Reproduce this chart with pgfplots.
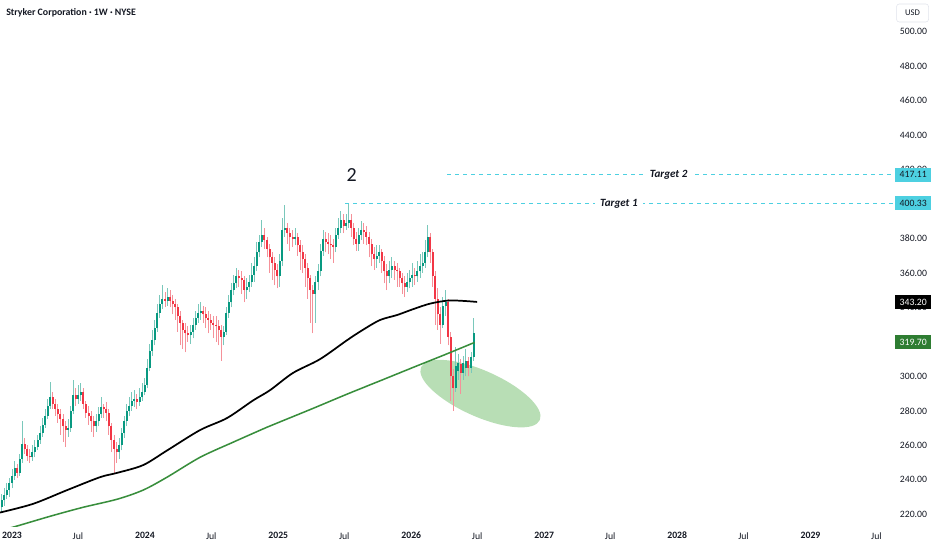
\documentclass[border=0pt]{standalone}
\usepackage{pgfplots}
\pgfplotsset{compat=1.18}
\usepackage{pgfplotstable}
\usepackage{fontspec}
\setmainfont{Carlito}
\definecolor{txt}{RGB}{19,23,34}
\definecolor{upbody}{RGB}{8,153,129}
\definecolor{upwick}{RGB}{122,200,187}
\definecolor{dnbody}{RGB}{242,54,69}
\definecolor{dnwick}{RGB}{245,145,153}
\definecolor{magreen}{RGB}{56,142,60}
\definecolor{boxgreen}{RGB}{46,125,50}
\definecolor{tvcyan}{RGB}{77,208,225}
\definecolor{ellfill}{RGB}{184,222,181}
\definecolor{bordergray}{RGB}{224,227,235}

\pgfplotstableread{
w o h l c
-4 224 232 221 228
-3 228 235 225 231
-2 231 238 229 234
-1 234 241 230 238
0 238 246 235 242
1 242 251 240 247
2 247 249 241 244
3 244 255 242 252
4 252 274 250 261
5 261 264 255 258
6 258 260 251 254
7 254 258 250 253
8 253 260 251 256
9 256 263 253 259
10 259 266 257 263
11 263 271 261 267
12 267 276 265 272
13 272 281 270 277
14 277 287 275 283
15 283 297 281 288
16 288 291 281 284
17 284 287 277 281
18 281 284 273 278
19 278 281 266 275
20 275 278 262 271
21 271 274 259 269
22 269 275 265 270
23 270 283 268 280
24 280 298 278 289
25 289 293 283 287
26 287 295 284 289
27 289 296 286 291
28 291 293 281 284
29 284 286 276 279
30 279 283 272 277
31 277 280 268 274
32 274 277 265 271
33 271 278 268 274
34 274 282 271 278
35 278 288 276 282
36 282 284 276 281
37 281 285 274 279
38 279 281 266 271
39 271 273 256 263
40 263 266 244 258
41 258 262 250 256
42 256 264 252 260
43 260 270 257 267
44 267 277 264 274
45 274 284 271 280
46 280 288 277 283
47 283 291 280 286
48 286 292 282 287
49 287 290 281 285
50 285 293 283 288
51 288 296 286 291
52 291 299 289 295
53 295 310 293 305
54 305 319 303 315
55 315 327 312 321
56 321 333 318 328
57 328 342 326 337
58 337 347 334 342
59 342 353 339 345
60 345 349 340 344
61 344 351 341 346
62 346 350 340 344
63 344 347 336 342
64 342 345 333 340
65 340 342 326 335
66 335 338 318 331
67 331 333 316 327
68 327 331 314 325
69 325 329 320 324
70 324 330 319 326
71 326 334 322 330
72 330 338 327 334
73 334 342 331 337
74 337 343 333 338
75 338 341 331 336
76 336 340 328 334
77 334 338 325 333
78 333 336 327 331
79 331 335 322 330
80 330 335 320 329
81 329 333 318 327
82 327 330 309 323
83 323 329 318 326
84 326 340 324 337
85 337 347 334 343
86 343 354 340 350
87 350 359 347 354
88 354 363 351 358
89 358 362 352 357
90 357 361 348 356
91 356 358 343 350
92 350 357 345 352
93 352 359 349 355
94 355 366 352 359
95 359 369 355 364
96 364 378 361 372
97 372 382 369 378
98 378 391 375 382
99 382 386 374 379
100 379 381 369 374
101 374 377 360 369
102 369 372 356 366
103 366 369 353 362
104 362 365 351 358
105 358 371 352 367
106 367 392 364 385
107 385 399.5 381 386
108 386 389 377 383
109 383 386 373 381
110 381 385 375 380
111 380 386 376 381
112 381 383 370 376
113 376 379 362 372
114 372 376 360 368
115 368 371 352 363
116 363 366 345 357
117 357 359 331 350
118 350 353 325 348
119 348 358 331 355
120 355 365 350 361
121 361 377 358 373
122 373 385 370 380
123 380 384 372 378
124 378 383 371 377
125 377 382 368 376
126 376 380 366 375
127 375 386 372 382
128 382 392 380 386
129 386 396 383 391
130 391 394 383 387
131 387 394 385 389
132 389 400.33 386 391
133 391 394 381 386
134 386 389 376 380
135 380 384 373 377
136 377 386 373 382
137 382 390 379 385
138 385 389 377 384
139 384 387 376 381
140 381 384 369 377
141 377 380 364 371
142 371 375 362 368
143 368 376 363 370
144 370 376 366 372
145 372 374 360 367
146 367 370 354 361
147 361 365 350 358
148 358 367 354 362
149 362 369 357 364
150 364 367 356 362
151 362 366 352 361
152 361 363 352 357
153 357 360 348 354
154 354 358 346 352
155 352 360 349 355
156 355 362 351 357
157 357 366 352 359
158 359 363 353 358
159 358 367 355 361
160 361 371 357 364
161 364 372 360 366
162 366 379 363 372
163 372 388 369 381
164 381 383 366 372
165 372 374 352 358
166 358 361 330 345
167 345 351 327 336
168 336 340 319 330
169 330 346 328 341
170 341 350 335 343
171 343 345 318 323
172 323 326 286 300
173 300 304 280 293
174 293 317 291 306
175 303 313 298 308
176 307 310 290 302
177 302 312 298 308
178 305 316 300 309
179 309 311 300 305
180 305 314 302 311
181 311 334 309 325
}\candles

\begin{document}
\begin{tikzpicture}
\path[use as bounding box] (0pt,-17.25pt) rectangle (699pt,395.25pt);
\begin{axis}[
  at={(0pt,0pt)}, anchor=south west,
  scale only axis, width=669.75pt, height=395.25pt,
  xmin=-4.706, xmax=345.49, ymin=212.6, ymax=518.4,
  axis line style={draw=none}, tick style={draw=none},
  clip mode=individual,
  xtick={0,25.86,52.14,78.14,104.43,130.29,156.57,182.43,208.71,234.57,260.86,286.86,313.14,339.0},
  xticklabels={\textbf{2023},Jul,\textbf{2024},Jul,\textbf{2025},Jul,\textbf{2026},Jul,\textbf{2027},Jul,\textbf{2028},Jul,\textbf{2029},Jul},
  ytick={220,240,260,280,300,320,340,360,380,400,420,440,460,480,500},
  yticklabels={220.00,240.00,260.00,280.00,300.00,320.00,340.00,360.00,380.00,400.00,420.00,440.00,460.00,480.00,500.00},
  yticklabel pos=right,
  yticklabel style={anchor=west, inner sep=0pt, xshift=5pt, font=\fontsize{7.3}{8.5}\selectfont, text=txt},
  xticklabel style={anchor=north, inner sep=0pt, yshift=-3.75pt, font=\fontsize{7.3}{8.5}\selectfont, text=txt},
]
% highlight ellipse (annotation)
\fill[ellfill, rotate around={-24:(axis cs:183.7,290)}] (axis cs:183.7,290) ellipse [x radius=48.75pt, y radius=17.25pt];

% wicks
\addplot[forget plot, draw=none, mark=none, error bars/.cd, y dir=plus, y explicit, error mark=none,
  error bar style={draw=upwick, line width=0.75pt, line cap=butt, solid}]
  table[x=w, y=l, y error expr={(1-(\thisrow{o}>\thisrow{c}))*(\thisrow{h}-\thisrow{l})}] {\candles};
\addplot[forget plot, draw=none, mark=none, error bars/.cd, y dir=plus, y explicit, error mark=none,
  error bar style={draw=dnwick, line width=0.75pt, line cap=butt, solid}]
  table[x=w, y=l, y error expr={(\thisrow{o}>\thisrow{c})*(\thisrow{h}-\thisrow{l})}] {\candles};
% bodies
\addplot[forget plot, draw=none, mark=none, error bars/.cd, y dir=plus, y explicit, error mark=none,
  error bar style={draw=upbody, line width=1.5pt, line cap=butt, solid}]
  table[x=w, y=o, y error expr={max(\thisrow{c}-\thisrow{o},0)}] {\candles};
\addplot[forget plot, draw=none, mark=none, error bars/.cd, y dir=plus, y explicit, error mark=none,
  error bar style={draw=dnbody, line width=1.5pt, line cap=butt, solid}]
  table[x=w, y=c, y error expr={max(\thisrow{o}-\thisrow{c},0)}] {\candles};

% moving averages
\addplot[black, line width=1.3pt, smooth, mark=none] coordinates {
(-4.7,221) (8.2,226) (21.6,234) (34.5,241.5) (41.2,244) (51.4,248.5) (60.8,257) (73.7,268.8) (84.3,275.8) (94.5,286) (101.2,292) (110.2,302) (120.8,310) (131.4,321) (137.6,327) (144.3,332.7) (151,335.6) (157.3,339) (163.9,342.2) (171,344) (176.9,343.8) (182.4,343.2)};
\addplot[magreen, line width=1.15pt, smooth, mark=none] coordinates {
(-4.7,210.8) (0.4,212.5) (14.9,218.8) (27.8,224) (41.2,228.7) (51.4,234) (60.8,241.5) (73.7,253) (86.7,261.8) (100,270.5) (105.1,273.6) (118,281.4) (131.4,289.7) (144.3,297.4) (157.3,305.2) (170.6,313.1) (181.4,319.7)};

% target lines
\addplot[tvcyan, line width=0.75pt, dash pattern=on 3pt off 3pt, mark=none] coordinates {(130.6,400.33) (345.49,400.33)};
\addplot[tvcyan, line width=0.75pt, dash pattern=on 3pt off 3pt, mark=none] coordinates {(170.6,417.11) (345.49,417.11)};

\node[fill=white, inner xsep=4pt, inner ysep=1pt, text=txt, font=\bfseries\itshape\fontsize{8.3}{9}\selectfont] at (axis cs:238,400.33) {Target 1};
\node[fill=white, inner xsep=4pt, inner ysep=1pt, text=txt, font=\bfseries\itshape\fontsize{8.3}{9}\selectfont] at (axis cs:257.5,417.11) {Target 2};
\node[text=txt, inner sep=0pt, font=\fontsize{15}{16}\selectfont] at (axis cs:133.2,416.9) {2};

\coordinate (P1) at (axis cs:345.49,417.11);
\coordinate (P2) at (axis cs:345.49,400.33);
\coordinate (P3) at (axis cs:345.49,343.20);
\coordinate (P4) at (axis cs:345.49,319.70);
\end{axis}

\tikzset{pl/.style={anchor=west, inner sep=0pt, minimum width=27pt, minimum height=10.5pt, font=\fontsize{7.3}{8.5}\selectfont}}
\node[pl, fill=tvcyan, text=txt] at ([xshift=1.5pt]P1) {417.11};
\node[pl, fill=tvcyan, text=txt] at ([xshift=1.5pt]P2) {400.33};
\node[pl, fill=black, text=white] at ([xshift=1.5pt]P3) {343.20};
\node[pl, fill=boxgreen, text=white] at ([xshift=1.5pt]P4) {319.70};

\node[draw=bordergray, rounded corners=2pt, fill=white, inner sep=0pt, minimum width=24pt, minimum height=13.5pt, font=\fontsize{6.5}{7}\selectfont, text=txt] at (684.4pt,385.5pt) {USD};
\node[anchor=west, inner sep=0pt, text=txt, font=\bfseries\fontsize{7.4}{8.5}\selectfont] at (4.5pt,385.5pt) {Stryker Corporation · 1W · NYSE};
\end{tikzpicture}
\end{document}
